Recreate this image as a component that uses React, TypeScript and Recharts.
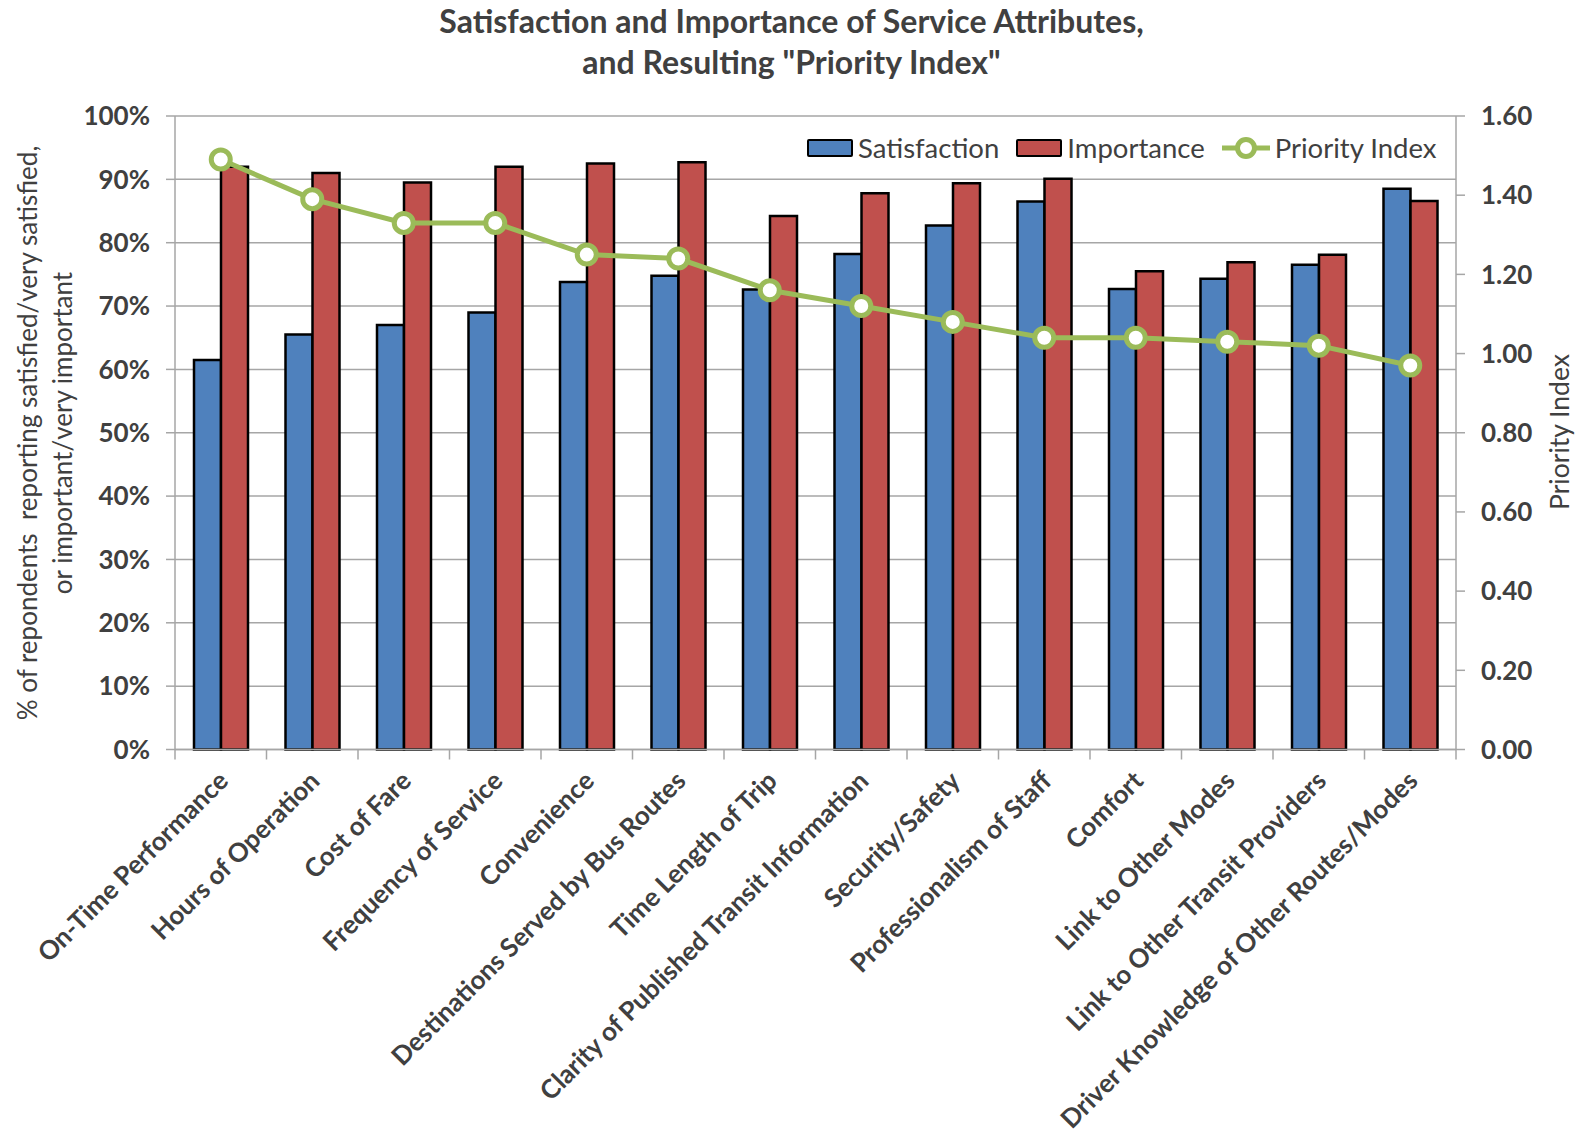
import React from 'react'
import {
  ComposedChart,
  Bar,
  Line,
  XAxis,
  YAxis,
  CartesianGrid,
} from 'recharts'

const attributes = [
  'On-Time Performance',
  'Hours of Operation',
  'Cost of Fare',
  'Frequency of Service',
  'Convenience',
  'Destinations Served by Bus Routes',
  'Time Length of Trip',
  'Clarity of Published Transit Information',
  'Security/Safety',
  'Professionalism of Staff',
  'Comfort',
  'Link to Other Modes',
  'Link to Other Transit Providers',
  'Driver Knowledge of Other Routes/Modes',
]

// % satisfied/very satisfied
const satisfaction = [61.5, 65.5, 67.0, 69.0, 73.8, 74.8, 72.6, 78.2, 82.7, 86.5, 72.7, 74.3, 76.5, 88.5]
// % important/very important
const importance = [92.0, 91.0, 89.5, 92.0, 92.5, 92.7, 84.2, 87.8, 89.4, 90.1, 75.5, 76.9, 78.1, 86.6]
const priorityIndex = [1.49, 1.39, 1.33, 1.33, 1.25, 1.24, 1.16, 1.12, 1.08, 1.04, 1.04, 1.03, 1.02, 0.97]

const pctTicks = [0, 10, 20, 30, 40, 50, 60, 70, 80, 90, 100]
const indexTicks = [0, 0.2, 0.4, 0.6, 0.8, 1.0, 1.2, 1.4, 1.6]

const BLUE = '#4F81BD'
const RED = '#C0504D'
const GREEN = '#9BBB59'
const TEXT = '#404040'
const GRID = '#A6A6A6'
const FONT = 'Lato, "Open Sans", sans-serif'

const W = 1583
const H = 1142

const data = attributes.map((name, i) => ({
  name,
  satisfaction: satisfaction[i],
  importance: importance[i],
  priority: priorityIndex[i],
}))

// rotated category label, plus Excel-style tick marks on the category edges
function CategoryTick(props: any) {
  const { x, y, payload, index } = props
  const half = payload.offset ?? 0
  return (
    <g>
      <line x1={x - half} y1={y - 8} x2={x - half} y2={y + 2} stroke={GRID} strokeWidth={1.5} />
      {index === attributes.length - 1 && (
        <line x1={x + half} y1={y - 8} x2={x + half} y2={y + 2} stroke={GRID} strokeWidth={1.5} />
      )}
      <text
        x={x + 9}
        y={y + 25}
        transform={`rotate(-45, ${x + 9}, ${y + 25})`}
        textAnchor="end"
        fill={TEXT}
        fontFamily={FONT}
        fontWeight={700}
        fontSize={26}
      >
        {payload.value}
      </text>
    </g>
  )
}

function ChartLegend() {
  const swatch = (color: string) => (
    <div style={{ width: 42, height: 14, background: color, border: '2.5px solid #000', borderRadius: 2 }} />
  )
  const label = (t: string) => (
    <span style={{ fontFamily: FONT, fontSize: 27.5, color: TEXT, marginLeft: 5, lineHeight: '30px' }}>{t}</span>
  )
  return (
    <div style={{ position: 'absolute', left: 807, top: 133, display: 'flex', alignItems: 'center' }}>
      {swatch(BLUE)}
      {label('Satisfaction')}
      <div style={{ width: 17 }} />
      {swatch(RED)}
      {label('Importance')}
      <div style={{ width: 17 }} />
      <svg width={48} height={26}>
        <line x1={0} y1={13} x2={48} y2={13} stroke={GREEN} strokeWidth={5} />
        <circle cx={24} cy={13} r={8.5} fill="#fff" stroke={GREEN} strokeWidth={5} />
      </svg>
      {label('Priority Index')}
    </div>
  )
}

export default function App() {
  return (
    <div style={{ position: 'absolute', left: 0, top: 0, width: W, height: H, background: '#fff' }}>
      <ComposedChart
        width={W}
        height={H}
        data={data}
        margin={{ top: 116, right: 47, bottom: 12.5, left: 95 }}
        barGap={0}
        barSize={27}
      >
        <CartesianGrid yAxisId="pct" vertical={false} stroke={GRID} strokeWidth={1.5} />
        <XAxis
          dataKey="name"
          height={380}
          interval={0}
          tick={<CategoryTick />}
          tickLine={false}
          axisLine={{ stroke: GRID, strokeWidth: 1.5 }}
        />
        <YAxis
          yAxisId="pct"
          width={80}
          domain={[0, 100]}
          ticks={pctTicks}
          interval={0}
          tickFormatter={(v) => `${v}%`}
          tickSize={9}
          tickMargin={16}
          tickLine={{ stroke: GRID, strokeWidth: 1.5 }}
          axisLine={{ stroke: GRID, strokeWidth: 1.5 }}
          tick={{ fill: TEXT, fontFamily: FONT, fontWeight: 700, fontSize: 26 }}
        />
        <YAxis
          yAxisId="idx"
          orientation="right"
          width={80}
          domain={[0, 1.6]}
          ticks={indexTicks}
          interval={0}
          tickFormatter={(v) => v.toFixed(2)}
          tickSize={9}
          tickMargin={16}
          tickLine={{ stroke: GRID, strokeWidth: 1.5 }}
          axisLine={{ stroke: GRID, strokeWidth: 1.5 }}
          tick={{ fill: TEXT, fontFamily: FONT, fontWeight: 700, fontSize: 26, textAnchor: 'start' }}
        />
        <Bar yAxisId="pct" dataKey="satisfaction" name="Satisfaction" fill={BLUE} stroke="#000" strokeWidth={2.5} isAnimationActive={false} />
        <Bar yAxisId="pct" dataKey="importance" name="Importance" fill={RED} stroke="#000" strokeWidth={2.5} isAnimationActive={false} />
        <Line
          yAxisId="idx"
          dataKey="priority"
          name="Priority Index"
          stroke={GREEN}
          strokeWidth={5}
          dot={{ r: 9.5, fill: '#fff', stroke: GREEN, strokeWidth: 5 }}
          activeDot={false}
          isAnimationActive={false}
        />
      </ComposedChart>

      <div
        style={{
          position: 'absolute',
          left: 0,
          top: 0,
          width: W,
          textAlign: 'center',
          fontFamily: FONT,
          fontWeight: 700,
          fontSize: 32,
          lineHeight: '41px',
          color: TEXT,
        }}
      >
        <div>Satisfaction and Importance of Service Attributes,</div>
        <div>and Resulting "Priority Index"</div>
      </div>

      <div
        style={{
          position: 'absolute',
          left: 45 - 400,
          top: 433 - 35,
          width: 800,
          height: 70,
          transform: 'rotate(-90deg)',
          textAlign: 'center',
          fontFamily: FONT,
          fontSize: 26,
          lineHeight: '35px',
          color: TEXT,
          whiteSpace: 'pre',
        }}
      >
        <div>{'% of repondents  reporting satisfied/very satisfied,'}</div>
        <div>or important/very important</div>
      </div>

      <div
        style={{
          position: 'absolute',
          left: 1559 - 150,
          top: 432 - 17,
          width: 300,
          height: 34,
          transform: 'rotate(-90deg)',
          textAlign: 'center',
          fontFamily: FONT,
          fontSize: 26.5,
          lineHeight: '34px',
          color: TEXT,
        }}
      >
        Priority Index
      </div>

      <ChartLegend />
    </div>
  )
}
